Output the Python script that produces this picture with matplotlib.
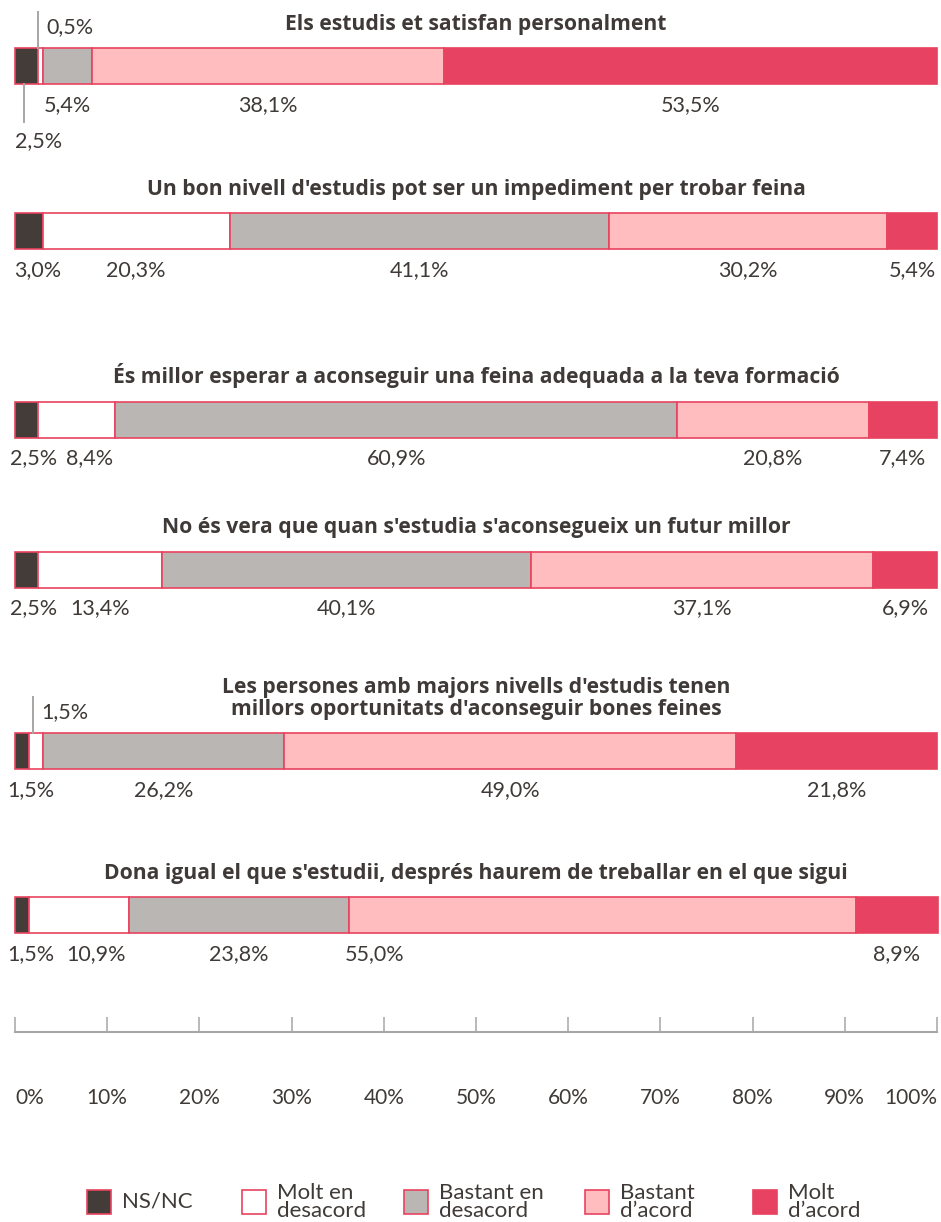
import numpy as np
import matplotlib.pyplot as plt
from matplotlib.patches import Rectangle

statements = [
    "Els estudis et satisfan personalment",
    "Un bon nivell d'estudis pot ser un impediment per trobar feina",
    "És millor esperar a aconseguir una feina adequada a la teva formació",
    "No és vera que quan s'estudia s'aconsegueix un futur millor",
    "Les persones amb majors nivells d'estudis tenen\nmillors oportunitats d'aconseguir bones feines",
    "Dona igual el que s'estudii, després haurem de treballar en el que sigui",
]
categories = ["NS/NC", "Molt en\ndesacord", "Bastant en\ndesacord",
              "Bastant\nd’acord", "Molt\nd’acord"]

ns_nc = [2.5, 3.0, 2.5, 2.5, 1.5, 1.5]
molt_desacord = [0.5, 20.3, 8.4, 13.4, 1.5, 10.9]
bastant_desacord = [5.4, 41.1, 60.9, 40.1, 26.2, 23.8]
bastant_acord = [38.1, 30.2, 20.8, 37.1, 49.0, 55.0]
molt_acord = [53.5, 5.4, 7.4, 6.9, 21.8, 8.9]
values = [ns_nc, molt_desacord, bastant_desacord, bastant_acord, molt_acord]

colors = ['#433C39', '#FFFFFF', '#BAB6B3', '#FFBDC0', '#E84262']
edge = '#E8435F'
text_c = '#3F3A37'
grey_line = '#A8A5A3'

plt.rcParams['font.family'] = ['Lato', 'DejaVu Sans']

W, H = 941, 1222
fig = plt.figure(figsize=(W / 100, H / 100), dpi=100)
ax = fig.add_axes([0, 0, 1, 1])

# pixel layout: 0% at x=15, 100% at x=937
x0, x1 = 15, 937
scale = (x1 - x0) / 100


def px2x(px):
    return (px - x0) / scale


ax.set_xlim(px2x(0), px2x(W))
ax.set_ylim(H, 0)

bar_y = np.array([66, 231, 419.5, 569.5, 751, 915])
bar_h = 36

left = np.zeros(len(statements))
lefts = []
for vals, col in zip(values, colors):
    ax.barh(bar_y, vals, left=left, height=bar_h, color=col,
            edgecolor=edge, linewidth=1.2, zorder=2)
    lefts.append(left.copy())
    left += np.array(vals)

# titles
for y, s in zip(bar_y, statements):
    ax.text(50, y - bar_h / 2 - 13, s, ha='center', va='bottom',
            fontsize=15.2, fontweight='bold', color=text_c, linespacing=1.05,
            family=['Open Sans', 'DejaVu Sans'])

# label x overrides for small / crowded segments (in % units)
label_x = {(1, 0): 2.5, (2, 0): 2.05, (3, 0): 2.05, (4, 0): 1.75,
           (5, 0): 1.75, (2, 1): 8.1, (5, 1): 8.8, (5, 3): 39.0}
leader_rows = {(0, 0): 'below', (0, 1): 'above', (4, 1): 'above'}
fs = 15.5

for j, vals in enumerate(values):
    for i, v in enumerate(vals):
        lab = f'{v:.1f}'.replace('.', ',') + '%'
        cx = lefts[j][i] + v / 2
        top = bar_y[i] - bar_h / 2
        bot = bar_y[i] + bar_h / 2
        kind = leader_rows.get((i, j))
        if kind == 'below':
            ax.plot([cx - 0.3, cx - 0.3], [bot, bot + 38], color=grey_line,
                    lw=1.4)
            ax.text(0, bot + 57, lab, ha='left', va='center', fontsize=fs,
                    color=text_c)
        elif kind == 'above':
            ax.plot([cx - 0.3, cx - 0.3], [top - 36, top], color=grey_line,
                    lw=1.4)
            ax.text(cx + 0.6, top - 21, lab, ha='left', va='center',
                    fontsize=fs, color=text_c)
        else:
            x = label_x.get((i, j), cx)
            ax.text(x, bot + 21, lab, ha='center', va='center', fontsize=fs,
                    color=text_c)

# percentage axis
for s in ['top', 'right', 'left']:
    ax.spines[s].set_visible(False)
ax.spines['bottom'].set_position(('data', 1032))
ax.spines['bottom'].set_bounds(0, 100)
ax.spines['bottom'].set_color(grey_line)
ax.spines['bottom'].set_linewidth(1.5)
ticks = np.arange(0, 101, 10)
ax.set_xticks(ticks, [f'{t}%' for t in ticks])
ax.tick_params(axis='x', direction='in', length=11, width=1.1,
               color=grey_line, pad=40, labelsize=15, labelcolor=text_c)
tl = ax.get_xticklabels()
tl[0].set_ha('left')
tl[-1].set_ha('right')
ax.set_yticks([])

# legend
leg_px = [87, 242, 404, 585, 753]
for px, col, cat in zip(leg_px, colors, categories):
    ax.add_patch(Rectangle((px2x(px), 1190), 24 / scale, 24, facecolor=col,
                           edgecolor=edge, linewidth=1.2))
    ax.text(px2x(px + 35), 1202, cat, ha='left', va='center', fontsize=16,
            color=text_c, linespacing=0.85)

fig.savefig('out.png', dpi=100, facecolor='white')
